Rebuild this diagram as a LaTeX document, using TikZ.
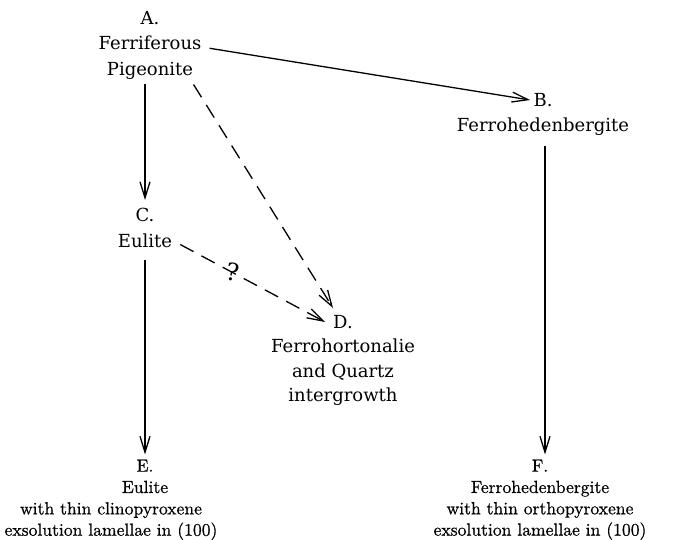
\documentclass[tikz,border=0pt]{standalone}
\usepackage{fontspec}
\newfontfamily\centfont{DejaVu Serif}
\newfontfamily\cmtenfont{lmroman10-regular}[Extension=.otf,FakeBold=0.7]
\usetikzlibrary{arrows.meta}
\begin{document}
\begin{tikzpicture}[x=1pt,y=-1pt,
  lbl/.style={align=center,inner sep=0pt,anchor=north,font=\centfont\fontsize{18}{25.5}\selectfont},
  lbld/.style={align=center,inner sep=0pt,anchor=north,font=\centfont\fontsize{18}{24.5}\selectfont},
  lblb/.style={align=center,inner sep=0pt,anchor=north,font=\cmtenfont\fontsize{17.6}{21.3}\selectfont},
  arr/.style={line width=1.3pt,-{Straight Barb[length=16pt,width=10pt,line width=1.3pt]}},
  darr/.style={arr,dash pattern=on 15pt off 9pt}]
\useasboundingbox (0,0) rectangle (686,540);
\node[lbl] (A) at (150,11) {A.\\Ferriferous\\Pigeonite};
\node[lbl] (B) at (543,93) {B.\\Ferrohedenbergite};
\node[lbl] (C) at (145,208) {C.\\Eulite};
\node[lbld] (D) at (343,315) {D.\\Ferrohortonalie\\and Quartz\\intergrowth};
\node[lblb] (E) at (145,459.5) {E.\\Eulite};
\node[lblb] (E2) at (111,502) {with thin clinopyroxene\\exsolution lamellae in (100)};
\node[lblb] (F) at (540,459.5) {F.\\Ferrohedenbergite\\with thin orthopyroxene\\exsolution lamellae in (100)};
\draw[arr] ([yshift=-4pt]A.south -| C.north) -- ([yshift=8pt]C.north);
\draw[arr] ([xshift=8pt,yshift=-3pt]A.east) -- ([xshift=-13pt,yshift=-7pt]B.north);
\draw[darr] ([xshift=-8pt,yshift=-5pt]A.south east) -- ([xshift=-10pt,yshift=7pt]D.north);
\draw[darr] ([xshift=8pt,yshift=3pt]C.south east) -- node[pos=0.36,inner sep=0pt,font=\centfont\fontsize{24}{26}\selectfont,rotate=-10]{?} ([xshift=-18pt,yshift=-7pt]D.north);
\draw[arr] ([yshift=-12pt]C.south) -- ([yshift=5pt]C.south |- E.north);
\draw[arr] ([xshift=2pt,yshift=-10pt]B.south) -- ([xshift=2pt,yshift=5pt]B.south |- F.north);
\end{tikzpicture}
\end{document}
